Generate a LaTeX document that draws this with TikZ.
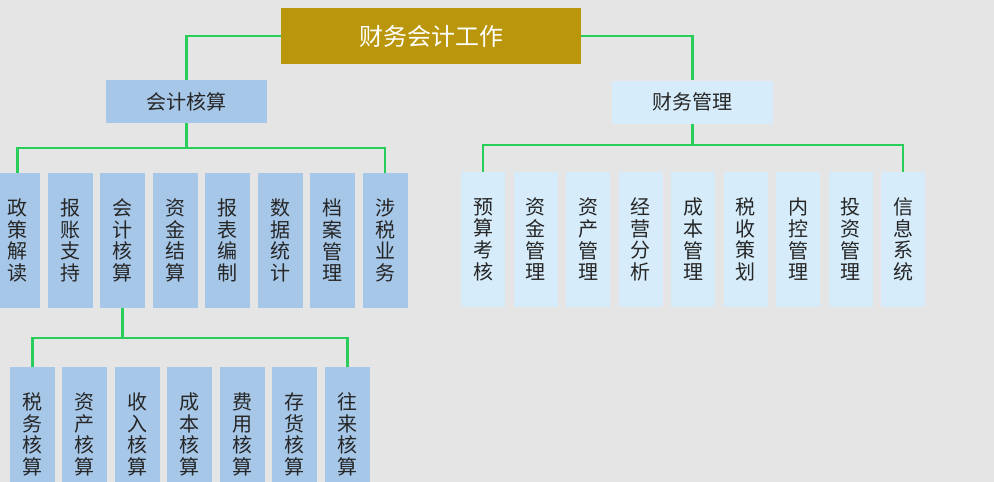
\documentclass[tikz,border=0pt]{standalone}
\usepackage{fontspec}
\newfontfamily\cjk{Noto Sans CJK SC}
\definecolor{fbg}{RGB}{229,229,229}
\definecolor{fgold}{RGB}{186,150,12}
\definecolor{fblu}{RGB}{167,199,232}
\definecolor{fsky}{RGB}{214,236,250}
\definecolor{fgrn}{RGB}{40,205,90}
\tikzset{
  fhead/.style={fill=fgold,minimum width=300pt,minimum height=56pt,text=white,font=\cjk\fontsize{24}{26}\selectfont},
  fsub/.style={minimum width=161pt,minimum height=43pt,font=\cjk\fontsize{20}{22}\selectfont,text=black!85},
  fcol/.style={minimum width=45pt,minimum height=135pt,inner sep=0pt,align=center,font=\cjk\fontsize{20}{21.7}\selectfont,text=black!85},
  flink/.style={line width=2.6pt,fgrn},
}
\newcommand{\vst}[4]{#1\\#2\\#3\\#4}

\begin{document}
\begin{tikzpicture}[x=1pt,y=-1pt]
\path[use as bounding box] (0,0) rectangle (994,482);
\clip (0,0) rectangle (994,482);
\fill[fbg] (0,0) rectangle (994,482);
% ---- the head and its two branches
\node[fhead] (work) at (431,36) {财务会计工作};
\node[fsub,fill=fblu] (acc) at (186.5,101.5) {会计核算};
\node[fsub,fill=fsky] (mgmt) at (692.5,102) {财务管理};
\draw[flink] (work.west) -| (acc.north);
\draw[flink] (work.east) -| (mgmt.north);
% ---- left row under 会计核算
\foreach \t [count=\i] in {政策解读,报账支持,会计核算,资金结算,报表编制,数据统计,档案管理,涉税业务}
  \node[fcol,fill=fblu] (l\i) at ({17.5+52.5*(\i-1)},240.5) {\expandafter\vst\t};
\coordinate (lbar) at (186.5,148);
\draw[flink] (acc.south) -- (lbar);
\draw[flink] (l1.north) |- (lbar) -| (l8.north);
% ---- right row under 财务管理
\foreach \t [count=\i] in {预算考核,资金管理,资产管理,经营分析,成本管理,税收策划,内控管理,投资管理,信息系统}
  \node[fcol,fill=fsky,minimum width=44pt] (r\i) at ({483+52.5*(\i-1)},239.5) {\expandafter\vst\t};
\coordinate (rbar) at (692.5,145);
\draw[flink] (mgmt.south) -- (rbar);
\draw[flink] (r1.north) |- (rbar) -| (r9.north);
% ---- bottom row, runs off the page
\foreach \t [count=\i] in {税务核算,资产核算,收入核算,成本核算,费用核算,存货核算,往来核算}
  \node[fcol,fill=fblu] (b\i) at ({32.3+52.5*(\i-1)},434.5) {\expandafter\vst\t};
\coordinate (bbar) at (122.5,338);
\draw[flink] (l3.south) -- (bbar);
\draw[flink] (b1.north) |- (bbar) -| (b7.north);
\end{tikzpicture}
\end{document}
